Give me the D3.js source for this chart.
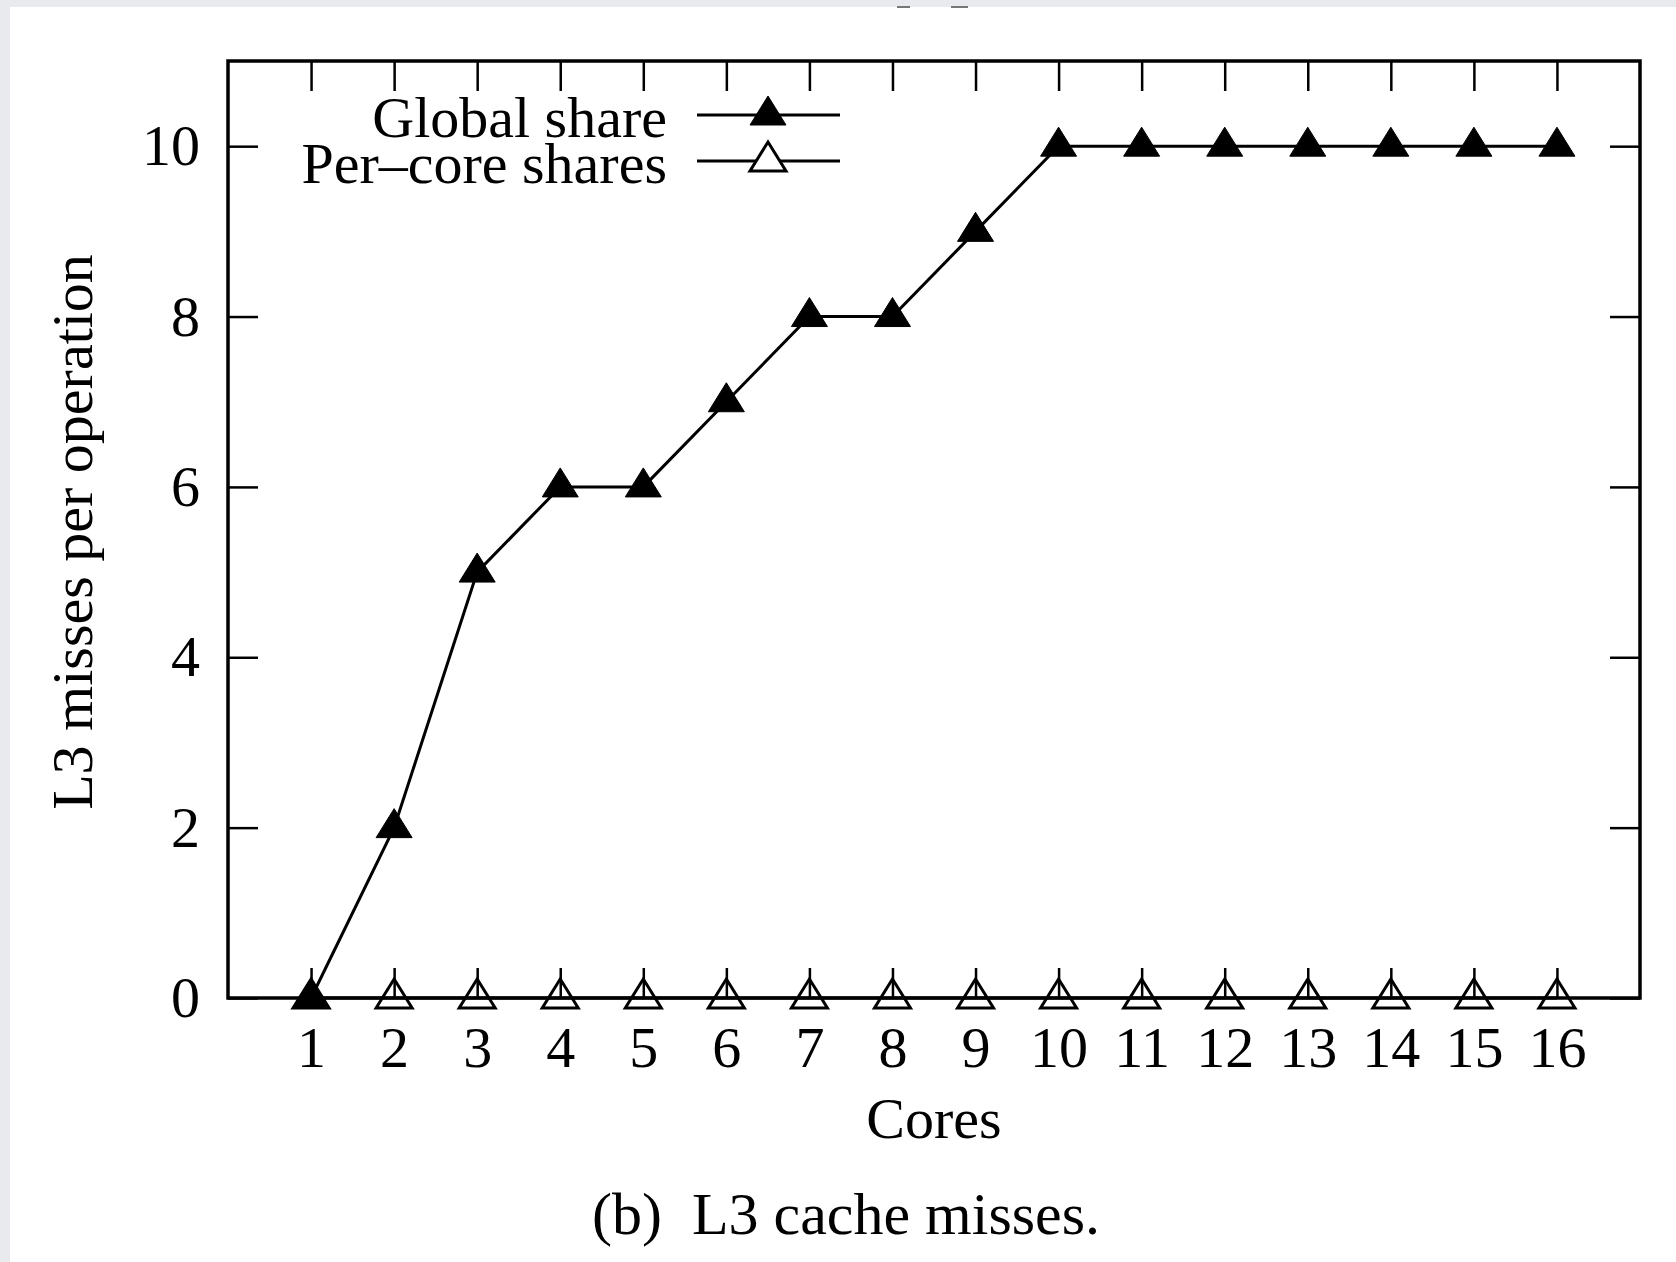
<!DOCTYPE html>
<html>
<head>
<meta charset="utf-8">
<script src="https://cdn.jsdelivr.net/npm/d3@7"></script>
<style>
  html, body { margin: 0; padding: 0; background: #e9eaed; }
  svg { display: block; }
  text { font-family: "Liberation Serif", "DejaVu Serif", serif; fill: #000; }
</style>
</head>
<body>
<svg id="chart" width="1676" height="1262"></svg>
<script>
// data
var cores = [1, 2, 3, 4, 5, 6, 7, 8, 9, 10, 11, 12, 13, 14, 15, 16];
var globalShare = [0, 2, 5, 6, 6, 7, 8, 8, 9, 10, 10, 10, 10, 10, 10, 10];
var perCoreShares = [0, 0, 0, 0, 0, 0, 0, 0, 0, 0, 0, 0, 0, 0, 0, 0];
var yTicks = [0, 2, 4, 6, 8, 10];
var seriesNames = ["Global share", "Per\u2013core shares"];

var W = 1676, H = 1262;
var box = {left: 228, right: 1640, top: 61, bottom: 998};
var tickLen = 30;
var fontSize = 58;

var svg = d3.select("#chart");

// page: white sheet with a little grey margin top/left
svg.append("rect").attr("x", 0).attr("y", 0).attr("width", W).attr("height", H).attr("fill", "#e9eaed");
svg.append("rect").attr("x", 10).attr("y", 7).attr("width", W - 10).attr("height", H - 7).attr("fill", "#fff");
// bits of the cut-off line above
svg.append("rect").attr("x", 897).attr("y", 6).attr("width", 13).attr("height", 2).attr("fill", "#777");
svg.append("rect").attr("x", 951).attr("y", 6).attr("width", 17).attr("height", 2).attr("fill", "#777");

var x = d3.scaleLinear().domain([0, 17]).range([box.left, box.right]);
var y = d3.scaleLinear().domain([0, 11]).range([box.bottom, box.top]);

// ticks, mirrored on all sides, pointing in
var ax = svg.append("g");
ax.append("g").attr("transform", "translate(0," + box.bottom + ")")
	.call(d3.axisBottom(x).tickValues(cores).tickSize(-tickLen).tickPadding(28).tickFormat(d3.format("d")));
ax.append("g").attr("transform", "translate(0," + box.top + ")")
	.call(d3.axisTop(x).tickValues(cores).tickSize(-tickLen).tickFormat(""));
ax.append("g").attr("transform", "translate(" + box.left + ",0)")
	.call(d3.axisLeft(y).tickValues(yTicks).tickSize(-tickLen).tickPadding(28).tickFormat(d3.format("d")));
ax.append("g").attr("transform", "translate(" + box.right + ",0)")
	.call(d3.axisRight(y).tickValues(yTicks).tickSize(-tickLen).tickFormat(""));
ax.selectAll(".domain").remove();
ax.selectAll(".tick line").attr("stroke", "#000").attr("stroke-width", 2.5);
ax.selectAll(".tick text").style("font-family", "'Liberation Serif', serif").style("font-size", fontSize + "px").attr("fill", "#000");

// frame
svg.append("rect")
	.attr("x", box.left).attr("y", box.top)
	.attr("width", box.right - box.left).attr("height", box.bottom - box.top)
	.attr("fill", "none").attr("stroke", "#000").attr("stroke-width", 3.5);

// axis titles
svg.append("text").attr("x", (box.left + box.right) / 2).attr("y", 1138)
	.attr("text-anchor", "middle").style("font-size", fontSize + "px").text("Cores");
svg.append("text").attr("transform", "translate(92,532) rotate(-90)")
	.attr("text-anchor", "middle").style("font-size", fontSize + "px").text("L3 misses per operation");
svg.append("text").attr("x", 846).attr("y", 1234)
	.attr("text-anchor", "middle").style("font-size", "60px").attr("xml:space", "preserve").text("(b)\u00a0 L3 cache misses.");

// triangle marker, centroid on the point
function tri(cx, cy) {
	var hw = 18, up = 19, dn = 10;
	return "M" + cx + "," + (cy - up) + "L" + (cx + hw) + "," + (cy + dn) + "L" + (cx - hw) + "," + (cy + dn) + "Z";
}

var line = d3.line().x(function(d){ return x(d[0]); }).y(function(d){ return y(d[1]); });
var series = [
	{name: seriesNames[0], values: globalShare, filled: true},
	{name: seriesNames[1], values: perCoreShares, filled: false}
];

// per-core first so the filled markers sit on top
series.slice().reverse().forEach(function(s){
	var pts = cores.map(function(c, i){ return [c, s.values[i]]; });
	svg.append("path").attr("d", line(pts)).attr("fill", "none").attr("stroke", "#000").attr("stroke-width", 3);
	svg.append("g").selectAll("path").data(pts).enter().append("path")
		.attr("d", function(d){ return tri(x(d[0]), y(d[1])); })
		.attr("fill", s.filled ? "#000" : "none")
		.attr("stroke", "#000").attr("stroke-width", s.filled ? 1 : 3);
});

// legend
var legY = [115, 161];
series.forEach(function(s, i){
	svg.append("text").attr("x", 667).attr("y", legY[i]).attr("dy", "0.38em")
		.attr("text-anchor", "end").style("font-size", fontSize + "px").text(s.name);
	svg.append("line").attr("x1", 697).attr("x2", 840).attr("y1", legY[i]).attr("y2", legY[i])
		.attr("stroke", "#000").attr("stroke-width", 3);
	svg.append("path").attr("d", tri(768, legY[i]))
		.attr("fill", s.filled ? "#000" : "#fff")
		.attr("stroke", "#000").attr("stroke-width", s.filled ? 1 : 3);
});
</script>
</body>
</html>
